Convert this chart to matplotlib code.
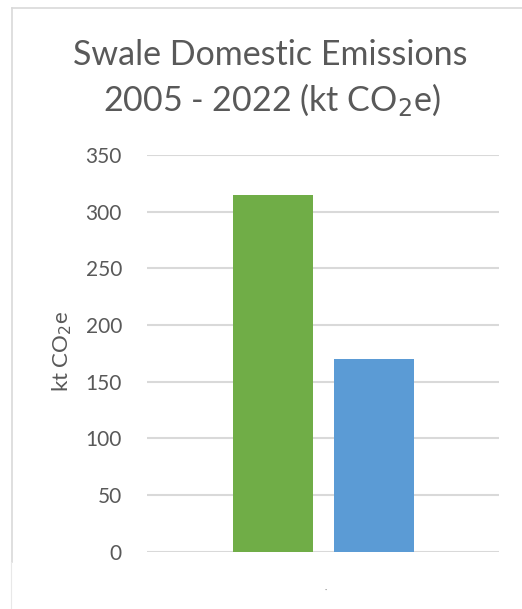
import matplotlib.pyplot as plt
from matplotlib.lines import Line2D

# data
series = ["2005", "2022"]
values = [315, 170]
colors = ["#70AD47", "#5B9BD5"]
yticks = [0, 50, 100, 150, 200, 250, 300, 350]

plt.rcParams['font.family'] = ['Lato', 'DejaVu Sans']
txt = "#595959"

fig = plt.figure(figsize=(5.22, 6.09), dpi=100)
ax = fig.add_axes([147/522, 57.3/609, 352/522, 396.7/609])

# one category, two series side by side
w = 80 / 352
gap = 21 / 352
xs = [0.5 - gap/2 - w/2, 0.5 + gap/2 + w/2]
ax.bar(xs, values, width=w, color=colors, zorder=3)

ax.set_xlim(0, 1)
ax.set_ylim(0, 350)
ax.set_yticks(yticks)
ax.set_yticklabels([str(t) for t in yticks], fontsize=15, color=txt)
ax.tick_params(axis='y', length=0, pad=18)
ax.set_xticks([])
ax.grid(axis='y', color="#D9D9D9", linewidth=1.5, zorder=0)
for s in ax.spines.values():
    s.set_visible(False)

ax.set_ylabel("kt CO$_2$e", fontsize=16, color=txt)
ax.yaxis.set_label_coords(-(147 - 74) / 352, 0.505)

fig.text(270/522, 1 - 55/609, "Swale Domestic Emissions", ha='center', va='center',
         fontsize=24.5, color=txt)
fig.text(272/522, 1 - 100/609, "2005 - 2022 (kt CO$_2$e)", ha='center', va='center',
         fontsize=24.5, color=txt)

# chart frame
fig.add_artist(Line2D([12/522, 1], [1 - 8/609, 1 - 8/609], color="#D9D9D9", lw=1.2))
fig.add_artist(Line2D([12/522, 12/522], [1 - 8/609, 1 - 562/609], color="#D9D9D9", lw=1.2))
fig.add_artist(Line2D([11/522, 11/522], [1 - 562/609, 0], color="#E8E8E8", lw=0.8))

# small legend marker
fig.text(326/522, 1 - 590/609, "·", ha='center', va='center', fontsize=6, color="#808080")

fig.savefig("out.png", dpi=100, facecolor="white")
